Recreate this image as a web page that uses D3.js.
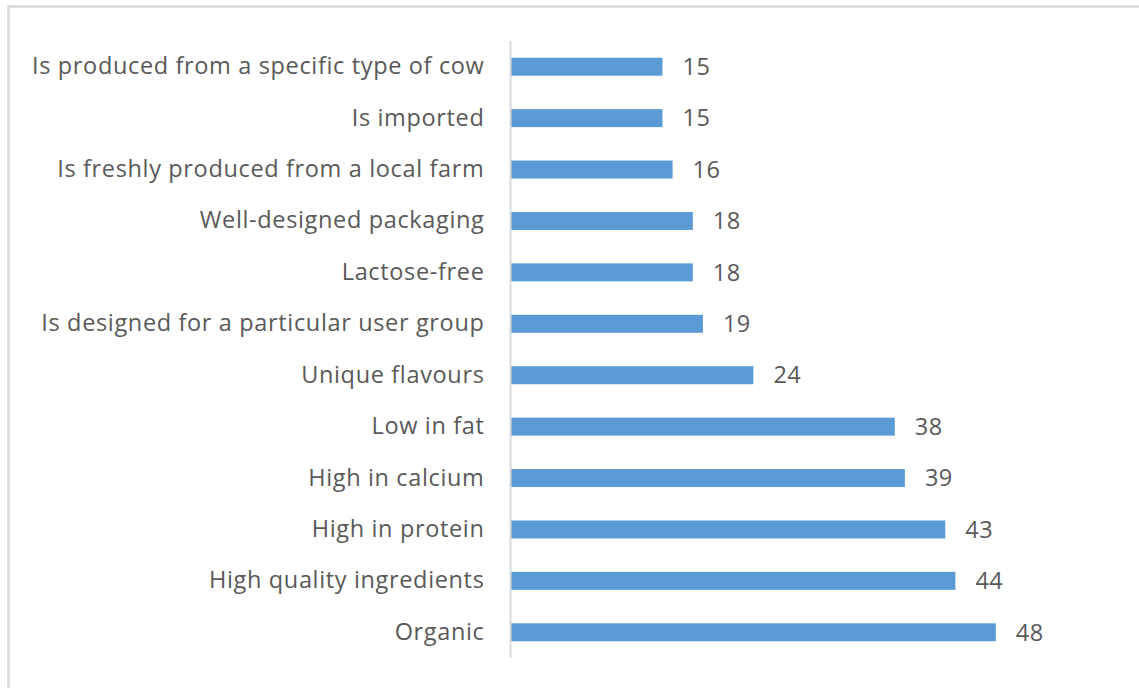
<!DOCTYPE html>
<html>
<head>
<meta charset="utf-8">
<script src="https://cdn.jsdelivr.net/npm/d3@7"></script>
<style>
  html, body { margin: 0; padding: 0; background: #ffffff; }
  svg { display: block; }
  text { font-family: "Open Sans", Lato, sans-serif; fill: #595959; }
</style>
</head>
<body>
<svg id="chart" width="1139" height="688"></svg>
<script>
// Attribute categories, top to bottom
const categories = [
  "Is produced from a specific type of cow",
  "Is imported",
  "Is freshly produced from a local farm",
  "Well-designed packaging",
  "Lactose-free",
  "Is designed for a particular user group",
  "Unique flavours",
  "Low in fat",
  "High in calcium",
  "High in protein",
  "High quality ingredients",
  "Organic"
];
// Share of respondents (%)
const values = [15, 15, 16, 18, 18, 19, 24, 38, 39, 43, 44, 48];
const axisMax = 50;

const svg = d3.select("#chart");

// chart frame
svg.append("rect")
  .attr("x", 8.5).attr("y", 6.5)
  .attr("width", 1150).attr("height", 700)
  .attr("fill", "none")
  .attr("stroke", "#d9d9d9")
  .attr("stroke-width", 2.5);

const x = d3.scaleLinear().domain([0, axisMax]).range([511, 1016]);
const y = d3.scaleBand()
  .domain(categories)
  .range([41, 658])
  .paddingInner(0.65)
  .paddingOuter(0.325);

// bars
svg.append("g").selectAll("rect")
  .data(values)
  .join("rect")
  .attr("x", x(0))
  .attr("y", (d, i) => y(categories[i]))
  .attr("width", d => x(d) - x(0))
  .attr("height", y.bandwidth())
  .attr("fill", "#5b9bd5");

// category axis
const yAxis = svg.append("g")
  .attr("transform", `translate(${x(0) - 0.5},0)`)
  .call(d3.axisLeft(y).tickSize(0).tickPadding(26));
yAxis.select(".domain")
  .attr("d", `M0,41V658`)
  .attr("stroke", "#d9d9d9")
  .attr("stroke-width", 2);
yAxis.selectAll(".tick text")
  .attr("font-family", "'Open Sans', Lato, sans-serif")
  .attr("font-size", 23.5)
  .attr("letter-spacing", 0.65)
  .attr("fill", "#595959");

// value labels
svg.append("g").selectAll("text")
  .data(values)
  .join("text")
  .attr("x", d => x(d) + 20)
  .attr("y", (d, i) => y(categories[i]) + y.bandwidth() / 2)
  .attr("dy", "0.35em")
  .attr("font-size", 23.5)
  .attr("letter-spacing", 0.5)
  .text(d => d);
</script>
</body>
</html>
